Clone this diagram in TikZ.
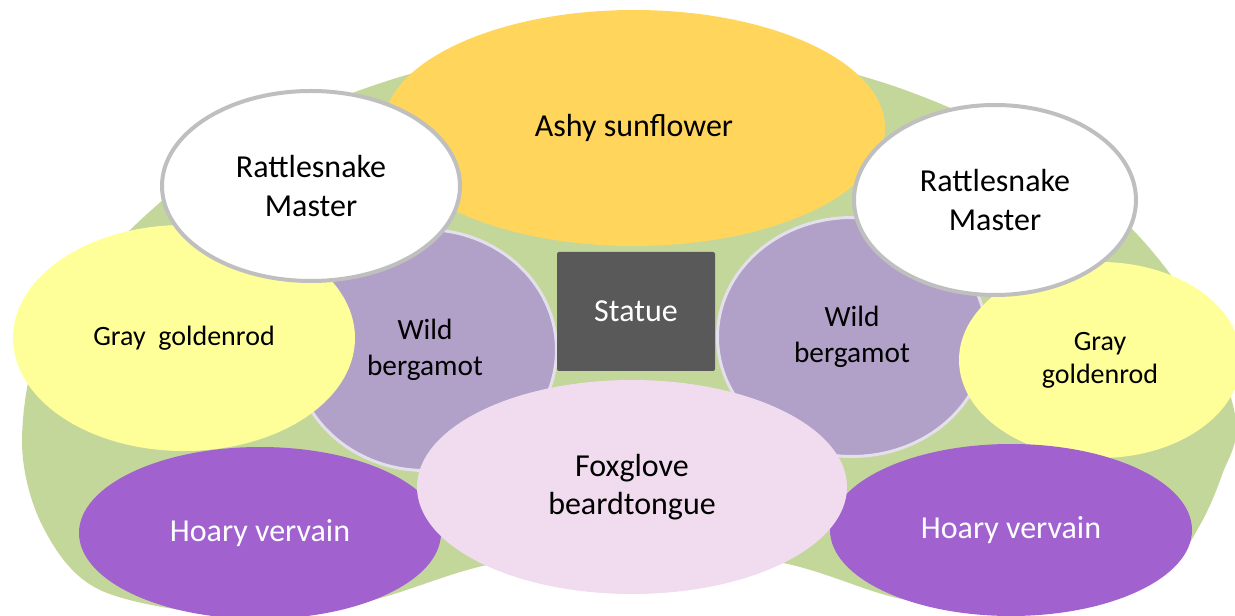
\documentclass[tikz,border=0pt]{standalone}
\usepackage{fontspec}
\setmainfont{Carlito}
\usepackage{tikz}
\usetikzlibrary{shapes}
\usepackage{xcolor}
\definecolor{lawn}{HTML}{C4D79B}
\definecolor{sunflower}{HTML}{FFD65B}
\definecolor{rim}{HTML}{BFBFBF}
\definecolor{bergamot}{HTML}{B1A0C7}
\definecolor{bergrim}{HTML}{E4DFEC}
\definecolor{goldenrod}{HTML}{FFFF99}
\definecolor{vervain}{HTML}{A162D0}
\definecolor{foxglove}{HTML}{F0DCEE}
\definecolor{statue}{HTML}{595959}
\tikzset{
	every node/.style={align=center, inner sep=0pt, outer sep=0pt},
	bed/.style={ellipse, fill=#1},
	big/.style={font=\fontsize{24}{29}\selectfont},
	mid/.style={font=\fontsize{22}{26.5}\selectfont},
	small/.style={font=\fontsize{21}{25}\selectfont},
	rattle/.style={bed=white, draw=rim, line width=3pt, big},
	wild/.style={bed=bergamot, draw=bergrim, line width=2.25pt, mid},
	hoary/.style={bed=vervain, text=white, big}
}

\begin{document}
\begin{tikzpicture}[x=0.75pt, y=-0.75pt]
	\useasboundingbox (0,0) rectangle (1235,616);
	% lawn
	\fill[lawn] plot[smooth cycle, tension=0.55] coordinates {
		(22,440) (45,330) (130,230) (230,150) (355,92) (480,58) (630,48)
		(780,58) (905,90) (1035,150) (1133,230) (1200,320) (1236,420)
		(1222,475) (1200,525) (1170,565) (1100,600) (1000,612) (897,598)
		(783,563) (632,545) (487,565) (360,603) (230,615) (100,590) (43,527)};
	
	\node[bed=sunflower, big, minimum width=376.5pt, minimum height=177pt] (1) at (634,128) {Ashy sunflower};
	
	\node[wild, minimum width=197.25pt, minimum height=180.75pt] (2) at (425,350) {Wild\\bergamot};
	\node[wild, minimum width=201.75pt, minimum height=179.25pt] (3) at (852,337) {Wild\\bergamot};
	
	\node[bed=goldenrod, small, minimum width=256.5pt, minimum height=169.5pt] (4) at (184,338) {Gray\ \ goldenrod};
	\node[bed=goldenrod, small, minimum width=211.5pt, minimum height=147pt] (5) at (1100,360) {Gray\\goldenrod};
	
	\node[rattle, minimum width=223.5pt, minimum height=142.5pt] (6) at (311,186) {Rattlesnake\\Master};
	\node[rattle, minimum width=211.5pt, minimum height=142.5pt] (7) at (995,200) {Rattlesnake\\Master};
	
	\node[hoary, minimum width=271.5pt, minimum height=129pt] (8) at (260,533) {Hoary vervain};
	\node[hoary, minimum width=271.5pt, minimum height=129pt] (9) at (1011,530) {Hoary vervain};
	
	\node[bed=foxglove, big, minimum width=322.5pt, minimum height=160.5pt] (10) at (632,487) {Foxglove\\beardtongue};
	
	\node[rectangle, rounded corners=1.5pt, fill=statue, text=white, big, minimum width=118.5pt, minimum height=89.25pt] (11) at (636,311.5) {Statue};
\end{tikzpicture}
\end{document}
